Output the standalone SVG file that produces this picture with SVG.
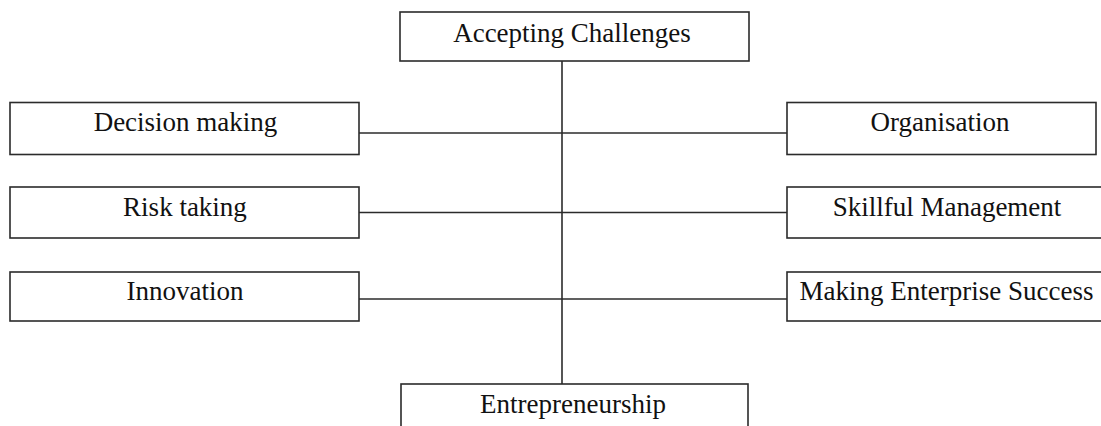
<svg xmlns="http://www.w3.org/2000/svg" width="1101" height="426" viewBox="0 0 1101 426">
  <style>
    .box { fill: #ffffff; stroke: #2b2b2b; stroke-width: 1.6; }
    .lbl { font-family: "Liberation Serif", "Times New Roman", serif; font-size: 27px; fill: #111111; text-anchor: middle; }
    .wire { stroke: #2b2b2b; stroke-width: 1.6; fill: none; }
  </style>
  <rect width="1101" height="426" fill="#ffffff"/>

  <!-- connectors -->
  <g id="connectors">
    <line class="wire" x1="562" y1="61" x2="562" y2="384"/>
    <line class="wire" x1="359" y1="133" x2="787" y2="133"/>
    <line class="wire" x1="359" y1="212.5" x2="787" y2="212.5"/>
    <line class="wire" x1="359" y1="299" x2="787" y2="299"/>
  </g>

  <g id="accepting-challenges">
    <rect class="box" x="400" y="12" width="349" height="49"/>
    <text class="lbl" x="572" y="42">Accepting Challenges</text>
  </g>

  <g id="decision-making">
    <rect class="box" x="10" y="102.5" width="349" height="52"/>
    <text class="lbl" x="185.5" y="131">Decision making</text>
  </g>

  <g id="organisation">
    <rect class="box" x="787" y="102.5" width="309" height="52"/>
    <text class="lbl" x="940" y="131">Organisation</text>
  </g>

  <g id="risk-taking">
    <rect class="box" x="10" y="187" width="349" height="51"/>
    <text class="lbl" x="185" y="216">Risk taking</text>
  </g>

  <g id="skillful-management">
    <rect class="box" x="787" y="187" width="330" height="51"/>
    <text class="lbl" x="947" y="216">Skillful Management</text>
  </g>

  <g id="innovation">
    <rect class="box" x="10" y="272" width="349" height="49"/>
    <text class="lbl" x="185" y="300">Innovation</text>
  </g>

  <g id="making-enterprise-success">
    <rect class="box" x="787" y="272" width="330" height="49"/>
    <text class="lbl" x="946.5" y="300">Making Enterprise Success</text>
  </g>

  <g id="entrepreneurship">
    <rect class="box" x="401" y="384" width="347" height="60"/>
    <text class="lbl" x="573" y="413">Entrepreneurship</text>
  </g>
</svg>
